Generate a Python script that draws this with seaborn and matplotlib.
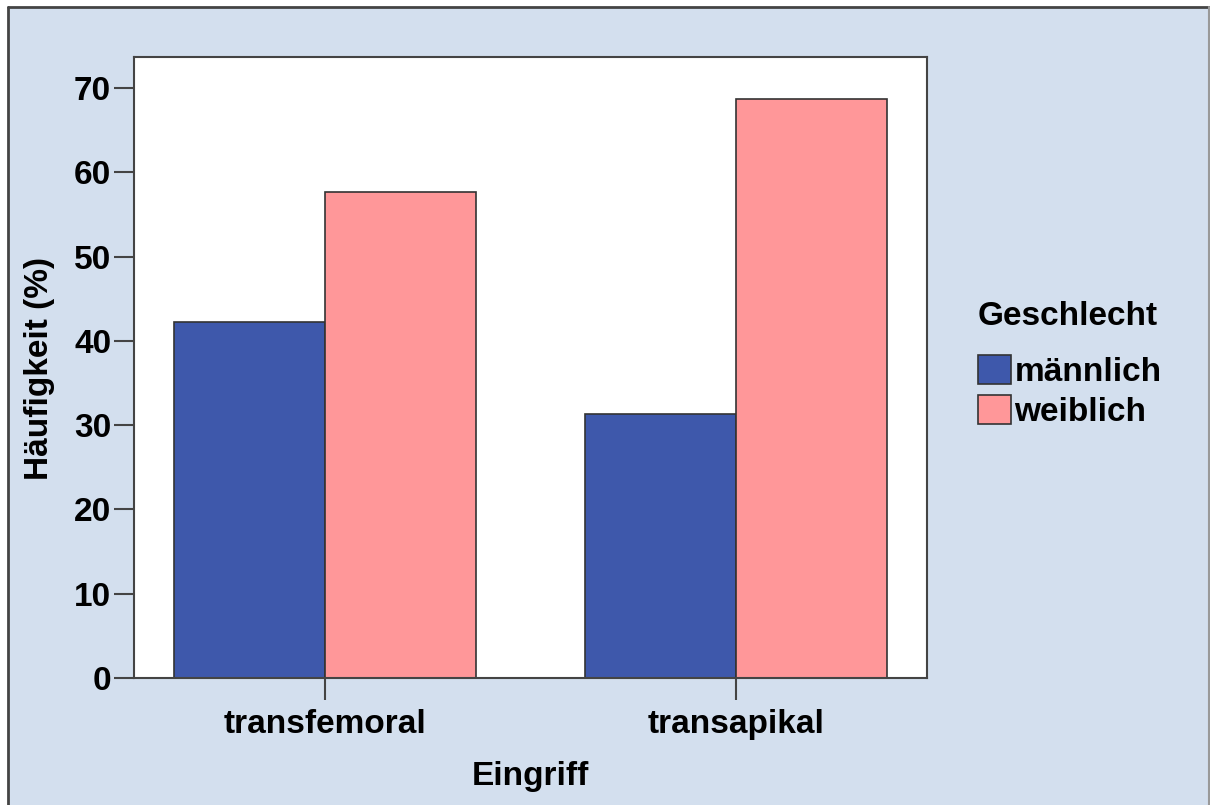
import matplotlib
matplotlib.use("Agg")
import matplotlib.pyplot as plt
import seaborn as sns
import pandas as pd
from matplotlib.patches import Patch
from matplotlib.lines import Line2D

# %% data
eingriff = ["transfemoral", "transapikal"]
geschlecht = ["männlich", "weiblich"]
maennlich = [42.3, 31.3]
weiblich = [57.7, 68.7]

df = pd.DataFrame({
    "Eingriff": eingriff * 2,
    "Geschlecht": [geschlecht[0]] * 2 + [geschlecht[1]] * 2,
    "Prozent": maennlich + weiblich,
})

colors = {"männlich": "#3e58ab", "weiblich": "#ff9799"}
bg = "#d3dfee"

# %% plot
sns.set_style("white")
plt.rcParams["font.family"] = ["Liberation Sans", "DejaVu Sans"]
plt.rcParams["font.weight"] = "bold"
plt.rcParams["text.color"] = "black"
plt.rcParams["xtick.color"] = "black"
plt.rcParams["ytick.color"] = "black"

fig = plt.figure(figsize=(12.1, 8.05), dpi=100, facecolor=bg)
ax = fig.add_axes([134 / 1210, 1 - 678 / 805, (927 - 134) / 1210, (678 - 57) / 805])

sns.barplot(
    data=df, x="Eingriff", y="Prozent", hue="Geschlecht",
    order=eingriff, hue_order=geschlecht, palette=colors,
    width=0.736, gap=0, edgecolor="#333333", linewidth=1.2,
    saturation=1, errorbar=None, ax=ax, legend=False,
)

ax.set_xlim(-0.465, 1.465)
ax.set_ylim(0, 73.7)
ax.set_yticks(range(0, 71, 10))
ax.set_facecolor("white")
for s in ax.spines.values():
    s.set_color("#444444")
    s.set_linewidth(1.5)

ax.tick_params(axis="both", which="major", direction="out", length=14.4,
               width=1.5, color="#444444", labelcolor="black", labelsize=24, pad=2,
               bottom=True, left=True)
ax.tick_params(axis="x", length=16, pad=6)
for lab in ax.get_xticklabels() + ax.get_yticklabels():
    lab.set_fontweight("bold")

ax.set_xlabel("")
ax.set_ylabel("")
fig.text(530 / 1210, 1 - 776 / 805, "Eingriff", ha="center", va="center",
         fontsize=24, fontweight="bold")
fig.text(40 / 1210, 1 - 368 / 805, "Häufigkeit (%)", ha="center", va="center",
         rotation=90, fontsize=24, fontweight="bold")

handles = [Patch(facecolor=colors[g], edgecolor="#333333", linewidth=1.2) for g in geschlecht]
leg = fig.legend(handles, geschlecht, title="Geschlecht", loc="upper left",
                 bbox_to_anchor=(961 / 1210, 1 - 284 / 805), frameon=False,
                 fontsize=24, title_fontsize=24, handlelength=1.0, handleheight=0.95,
                 handletextpad=0.1, labelspacing=0.22, borderpad=0)
leg.get_title().set_fontweight("bold")
leg._legend_box.align = "left"
leg._legend_box.sep = 17

# figure frame
fig.add_artist(Line2D([8 / 1210, 8 / 1210], [0, 1 - 7 / 805], transform=fig.transFigure,
                      color="#444444", linewidth=2))
fig.add_artist(Line2D([8 / 1210, 1], [1 - 7 / 805, 1 - 7 / 805], transform=fig.transFigure,
                      color="#444444", linewidth=2))
fig.add_artist(Line2D([1209 / 1210, 1209 / 1210], [0, 1 - 7 / 805], transform=fig.transFigure,
                      color="#999999", linewidth=1.5))
fig.patches.append(plt.Rectangle((0, 0), 8 / 1210, 1, transform=fig.transFigure,
                                 facecolor="white", zorder=-1))
fig.patches.append(plt.Rectangle((0, 1 - 7 / 805), 1, 7 / 805, transform=fig.transFigure,
                                 facecolor="white", zorder=-1))

fig.savefig("out.png", dpi=100, facecolor=bg)
